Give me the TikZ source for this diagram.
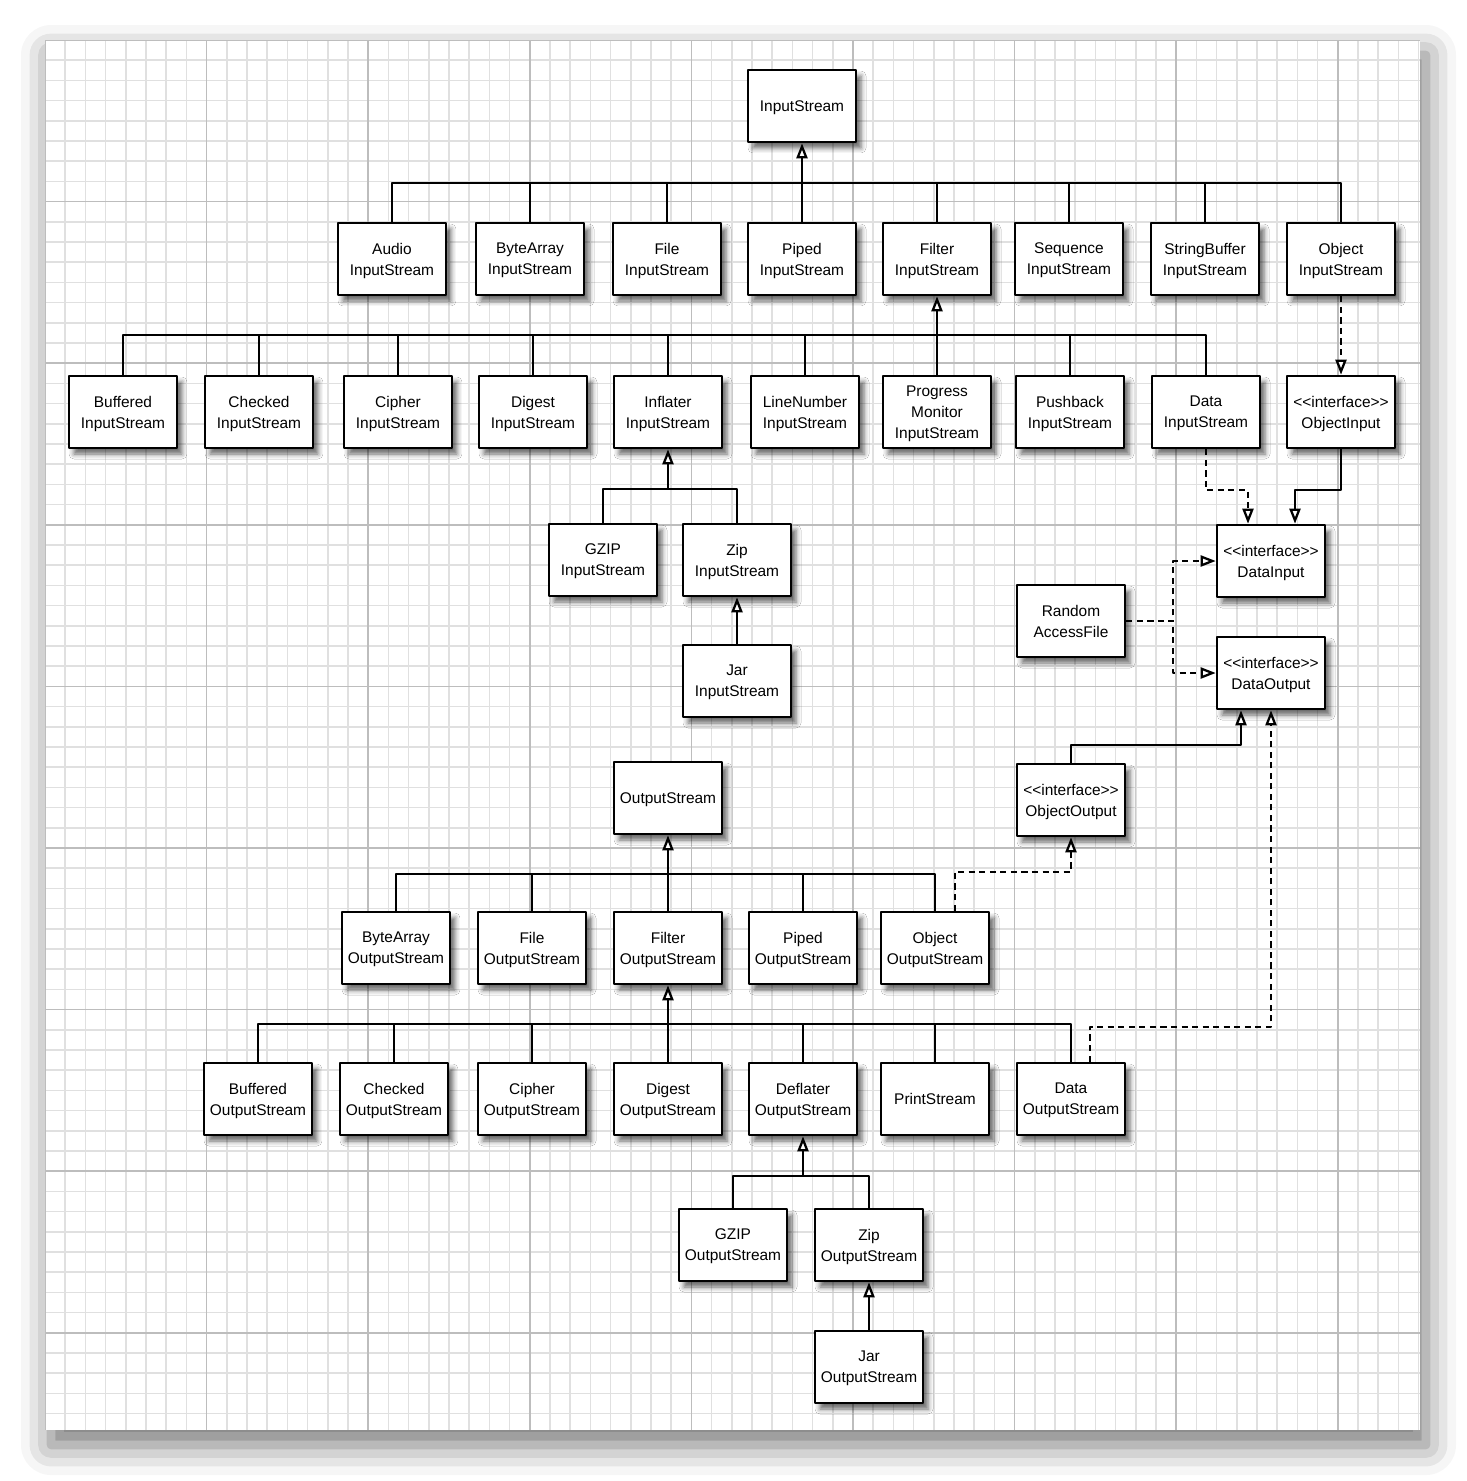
\documentclass[tikz,border=0pt]{standalone}
\usepackage{fontspec}
\newfontfamily\boxfont{Liberation Sans}
\usepackage{tikz}
\usetikzlibrary{arrows.meta}
\usetikzlibrary{calc}
\usetikzlibrary{shadows.blur}
\definecolor{gridminor}{rgb}{0.88,0.88,0.88}
\definecolor{gridmajor}{rgb}{0.74,0.74,0.74}

\begin{document}
\begin{tikzpicture}[
			% one unit = one pixel of the sheet, y runs downwards
			x=0.02cm, y=-0.02cm,
			line join=round,
			box/.style={draw=black, line width=1.5pt, fill=white,
					minimum width=2.16cm, minimum height=1.44cm, inner sep=1pt,
					text depth=0pt,
					align=center, font=\boxfont\fontsize{8.8}{11.9}\selectfont,
					blur shadow={shadow xshift=0.1cm, shadow yshift=-0.12cm,
							shadow blur radius=0.1cm, shadow opacity=60}},
			link/.style={line width=1.3pt},
			gen/.style={link, -{Triangle[fill=white, length=0.3cm, width=0.22cm]}},
			real/.style={gen, dash pattern=on 3.5pt off 2.5pt}
		]

		\useasboundingbox (0,0) rectangle (1467,1481);

		%-------------------
		% Sheet of graph paper
		%-------------------
		\fill[white, blur shadow={shadow xshift=0.12cm, shadow yshift=-0.3cm,
						shadow blur radius=0.6cm, shadow opacity=55}]
		(45,40) rectangle (1420,1430);
		\begin{scope}
			\clip (45,40) rectangle (1420,1430);
			\foreach \i in {0,...,68} {
					\draw[gridminor, line width=1pt] (45+20.2*\i,40) -- (45+20.2*\i,1430);
					\draw[gridminor, line width=1pt] (45,40+20.2*\i) -- (1420,40+20.2*\i);
				}
			\foreach \i in {0,...,8} {
					\draw[gridmajor, line width=1pt] (45+161.6*\i,40) -- (45+161.6*\i,1430);
					\draw[gridmajor, line width=1pt] (45,40+161.6*\i) -- (1420,40+161.6*\i);
				}
		\end{scope}

		%-------------------
		% InputStream and its subclasses
		%-------------------
		\node[box] (instream) at (802,106) {InputStream};
		\coordinate (inbus) at (802,183);
		\draw[gen] (inbus) -- (instream.south);

		\foreach \nm/\x/\lbl in {
				audio/392/Audio,
				bytein/530/ByteArray,
				filein/667/File,
				pipedin/802/Piped,
				filterin/937/Filter,
				seqin/1069/Sequence,
				sbufin/1205/StringBuffer,
				objin/1341/Object
			}{
				\node[box] (\nm) at (\x,259) {\lbl\\InputStream};
				\draw[link] (\nm.north) |- (inbus);
			}

		% subclasses of FilterInputStream
		\coordinate (filterbus) at (937,335);
		\draw[gen] (filterbus) -- (filterin.south);

		\foreach \nm/\x/\lbl in {
				bufin/123/Buffered,
				chkin/259/Checked,
				ciphin/398/Cipher,
				digin/533/Digest,
				inflin/668/Inflater,
				linein/805/LineNumber,
				pushin/1070/Pushback,
				datain/1206/Data
			}{
				\node[box] (\nm) at (\x,412) {\lbl\\InputStream};
				\draw[link] (\nm.north) |- (filterbus);
			}
		\node[box] (progin) at (937,412) {Progress\\Monitor\\InputStream};
		\draw[link] (progin.north) -- (filterbus);

		\node[box] (objinput) at (1341,412) {<<interface>>\\ObjectInput};

		% subclasses of InflaterInputStream
		\coordinate (inflbus) at (668,489);
		\draw[gen] (inflbus) -- (inflin.south);
		\node[box] (gzipin) at (603,560) {GZIP\\InputStream};
		\node[box] (zipin) at (737,560) {Zip\\InputStream};
		\node[box] (jarin) at (737,681) {Jar\\InputStream};
		\draw[link] (gzipin.north) |- (inflbus);
		\draw[link] (zipin.north) |- (inflbus);
		\draw[gen] (jarin.north) -- (zipin.south);

		%-------------------
		% Data interfaces
		%-------------------
		\node[box] (dinput) at (1271,561) {<<interface>>\\DataInput};
		\node[box] (doutput) at (1271,673) {<<interface>>\\DataOutput};
		\node[box] (raf) at (1071,621) {Random\\AccessFile};

		\draw[real] (objin.south) -- (objinput.north);
		\draw[real] (datain.south) -- ++(0,41) -| ($(dinput.north)+(-23,0)$);
		\draw[gen] (objinput.south) -- ++(0,41) -| ($(dinput.north)+(24,0)$);
		\draw[real] (raf.east) -- ++(47,0) |- (dinput.west);
		\draw[real] (raf.east) -- ++(47,0) |- (doutput.west);

		%-------------------
		% OutputStream and its subclasses
		%-------------------
		\node[box] (outstream) at (668,798) {OutputStream};
		\coordinate (outbus) at (668,874);
		\draw[gen] (outbus) -- (outstream.south);

		\foreach \nm/\x/\lbl in {
				byteout/396/ByteArray,
				fileout/532/File,
				filterout/668/Filter,
				pipedout/803/Piped,
				objout/935/Object
			}{
				\node[box] (\nm) at (\x,948) {\lbl\\OutputStream};
				\draw[link] (\nm.north) |- (outbus);
			}

		\node[box] (objoutput) at (1071,800) {<<interface>>\\ObjectOutput};

		% subclasses of FilterOutputStream
		\coordinate (fobus) at (668,1024);
		\draw[gen] (fobus) -- (filterout.south);

		\foreach \nm/\x/\lbl in {
				bufout/258/Buffered,
				chkout/394/Checked,
				ciphout/532/Cipher,
				digout/668/Digest,
				deflout/803/Deflater,
				dataout/1071/Data
			}{
				\node[box] (\nm) at (\x,1099) {\lbl\\OutputStream};
				\draw[link] (\nm.north) |- (fobus);
			}
		\node[box] (printout) at (935,1099) {PrintStream};
		\draw[link] (printout.north) |- (fobus);

		% subclasses of DeflaterOutputStream
		\coordinate (deflbus) at (803,1176);
		\draw[gen] (deflbus) -- (deflout.south);
		\node[box] (gzipout) at (733,1245) {GZIP\\OutputStream};
		\node[box] (zipout) at (869,1245) {Zip\\OutputStream};
		\node[box] (jarout) at (869,1367) {Jar\\OutputStream};
		\draw[link] (gzipout.north) |- (deflbus);
		\draw[link] (zipout.north) |- (deflbus);
		\draw[gen] (jarout.north) -- (zipout.south);

		% links to the interfaces
		\draw[gen] (objoutput.north) -- ++(0,-18) -| ($(doutput.south)+(-30,0)$);
		\draw[real] ($(objout.north)+(20,0)$) -- ++(0,-39) -| (objoutput.south);
		\draw[real] ($(dataout.north)+(19,0)$) -- ++(0,-35) -| (doutput.south);

	\end{tikzpicture}
\end{document}
